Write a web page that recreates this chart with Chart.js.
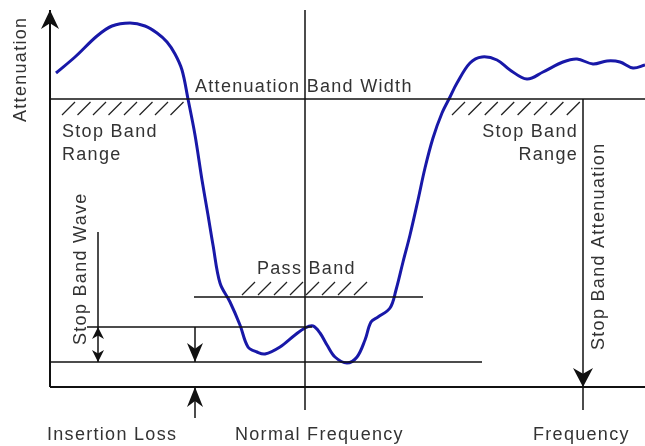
<!DOCTYPE html>
<html>
<head>
<meta charset="utf-8">
<script src="https://cdn.jsdelivr.net/npm/chart.js@4/dist/chart.umd.min.js"></script>
<style>
  html, body { margin: 0; padding: 0; background: #fff; }
  #wrap { width: 645px; height: 446px; }
</style>
</head>
<body>
<div id="wrap"><canvas id="myChart" width="645" height="446"></canvas></div>
<script>
// response curve (frequency vs attenuation)
const freq = [6, 25, 47, 62, 80, 95, 107, 117, 125, 132, 138, 145, 152, 158, 163, 170, 180, 190, 198, 207, 215, 230, 245, 255, 263, 270, 277, 285, 297, 307, 315, 321, 328, 340, 346, 353, 360, 368, 375, 383, 392, 400, 407, 420, 432, 447, 460, 477, 493, 513, 527, 543, 557, 570, 583, 595]
const atten = [314, 330, 351, 361, 364, 361, 354, 345, 333, 317, 288, 252, 207, 172, 142, 104, 85, 62, 40, 35, 33, 40, 52, 59, 61, 54, 42, 30, 24, 30, 47, 65, 70, 79, 97, 125, 152, 187, 219, 249, 274, 290, 304, 324, 330, 327, 317, 308, 315, 325, 328, 323, 326, 325, 319, 322]

// reference levels
const bandWidthLevel = 288
const passBandLevel = 90
const waveLevel = 60
const lossLevel = 25
const axisTop = 377
const freqEnd = 595
const normalFreq = 255
const stopFreq = 533

const labels = ["Attenuation", "Attenuation Band Width", "Stop Band", "Range", "Pass Band",
    "Stop Band Wave", "Stop Band Attenuation", "Insertion Loss", "Normal Frequency", "Frequency"]

function seg(x1, y1, x2, y2, w) {
    return {
        data: [{x: x1, y: y1}, {x: x2, y: y2}],
        showLine: true, borderColor: '#111', borderWidth: w || 1.5,
        pointRadius: 0, tension: 0
    }
}

function arrow(ctx, x, y, dir, len, half) {
    // dir: 1 = pointing down, -1 = pointing up
    ctx.beginPath()
    ctx.moveTo(x, y)
    ctx.lineTo(x - half, y - dir * len)
    ctx.lineTo(x, y - dir * len * 0.7)
    ctx.lineTo(x + half, y - dir * len)
    ctx.closePath()
    ctx.fill()
}

function hatch(ctx, x0, x1, yBase, h, step, below) {
    ctx.save()
    ctx.lineWidth = 1.3
    ctx.strokeStyle = '#222'
    for (let x = x0; x <= x1 - h + 1; x += step) {
        ctx.beginPath()
        if (below) {
            ctx.moveTo(x, yBase + h + 2)
            ctx.lineTo(x + h - 1, yBase + 3)
        } else {
            ctx.moveTo(x, yBase - 2)
            ctx.lineTo(x + h - 1, yBase - h - 1)
        }
        ctx.stroke()
    }
    ctx.restore()
}

const decor = {
    id: 'decor',
    afterDatasetsDraw(chart) {
        const ctx = chart.ctx
        const sx = chart.scales.x, sy = chart.scales.y
        const X = v => sx.getPixelForValue(v)
        const Y = v => sy.getPixelForValue(v)
        ctx.save()
        ctx.fillStyle = '#111'

        // arrow heads
        arrow(ctx, X(0), Y(axisTop), -1, 19, 9)
        arrow(ctx, X(stopFreq), Y(0), 1, 19, 10)
        arrow(ctx, X(48), Y(waveLevel), -1, 12, 6)
        arrow(ctx, X(48), Y(lossLevel), 1, 12, 6)
        arrow(ctx, X(145), Y(lossLevel), 1, 19, 8)
        arrow(ctx, X(145), Y(0), -1, 20, 8)

        // hatching
        hatch(ctx, X(12), X(134), Y(bandWidthLevel), 14, 15.5, true)
        hatch(ctx, X(402), X(531), Y(bandWidthLevel), 14, 16.4, true)
        hatch(ctx, X(192), X(322), Y(passBandLevel), 14, 16, false)

        // texts
        ctx.fillStyle = '#333'
        ctx.font = '18px "Liberation Sans", Arial, sans-serif'
        ctx.letterSpacing = '1.3px'
        ctx.textBaseline = 'alphabetic'
        ctx.textAlign = 'left'
        ctx.fillText(labels[1], 195, 92)
        ctx.fillText(labels[2], 62, 137)
        ctx.fillText(labels[3], 62, 160)
        ctx.fillText(labels[4], 257, 274)
        ctx.fillText(labels[7], 47, 440)
        ctx.fillText(labels[8], 235, 440)
        ctx.fillText(labels[9], 533, 440)
        ctx.textAlign = 'right'
        ctx.fillText(labels[2], 578, 137)
        ctx.fillText(labels[3], 578, 160)

        const vtext = (t, x, yStart) => {
            ctx.save()
            ctx.translate(x, yStart)
            ctx.rotate(-Math.PI / 2)
            ctx.textAlign = 'left'
            ctx.fillText(t, 0, 0)
            ctx.restore()
        }
        vtext(labels[0], 26, 122)
        vtext(labels[5], 86, 345)
        vtext(labels[6], 604, 350)
        ctx.restore()
    }
}

const ctx = document.getElementById('myChart').getContext('2d')
new Chart(ctx, {
    type: 'scatter',
    data: {
        datasets: [
            seg(0, 0, 0, axisTop, 2),
            seg(0, 0, freqEnd, 0, 2),
            seg(0, bandWidthLevel, freqEnd, bandWidthLevel, 1.5),
            seg(normalFreq, -23, normalFreq, axisTop, 1.5),
            seg(stopFreq, -23, stopFreq, bandWidthLevel, 1.5),
            seg(144, passBandLevel, 373, passBandLevel, 1.5),
            seg(37, waveLevel, 262, waveLevel, 1.5),
            seg(0, lossLevel, 432, lossLevel, 1.5),
            seg(48, lossLevel, 48, 155, 1.5),
            seg(145, lossLevel, 145, waveLevel, 1.5),
            seg(145, -31, 145, 0, 1.5),
            {
                data: freq.map((f, i) => ({x: f, y: atten[i]})),
                showLine: true,
                borderColor: 'rgb(24, 24, 168)',
                borderWidth: 3,
                pointRadius: 0,
                tension: 0.35
            }
        ]
    },
    options: {
        responsive: false,
        animation: false,
        devicePixelRatio: 1,
        layout: { padding: 0 },
        plugins: { legend: { display: false }, tooltip: { enabled: false } },
        scales: {
            x: { type: 'linear', min: -50, max: 595, display: false },
            y: { type: 'linear', min: -59, max: 387, display: false }
        }
    },
    plugins: [decor]
})
</script>
</body>
</html>
